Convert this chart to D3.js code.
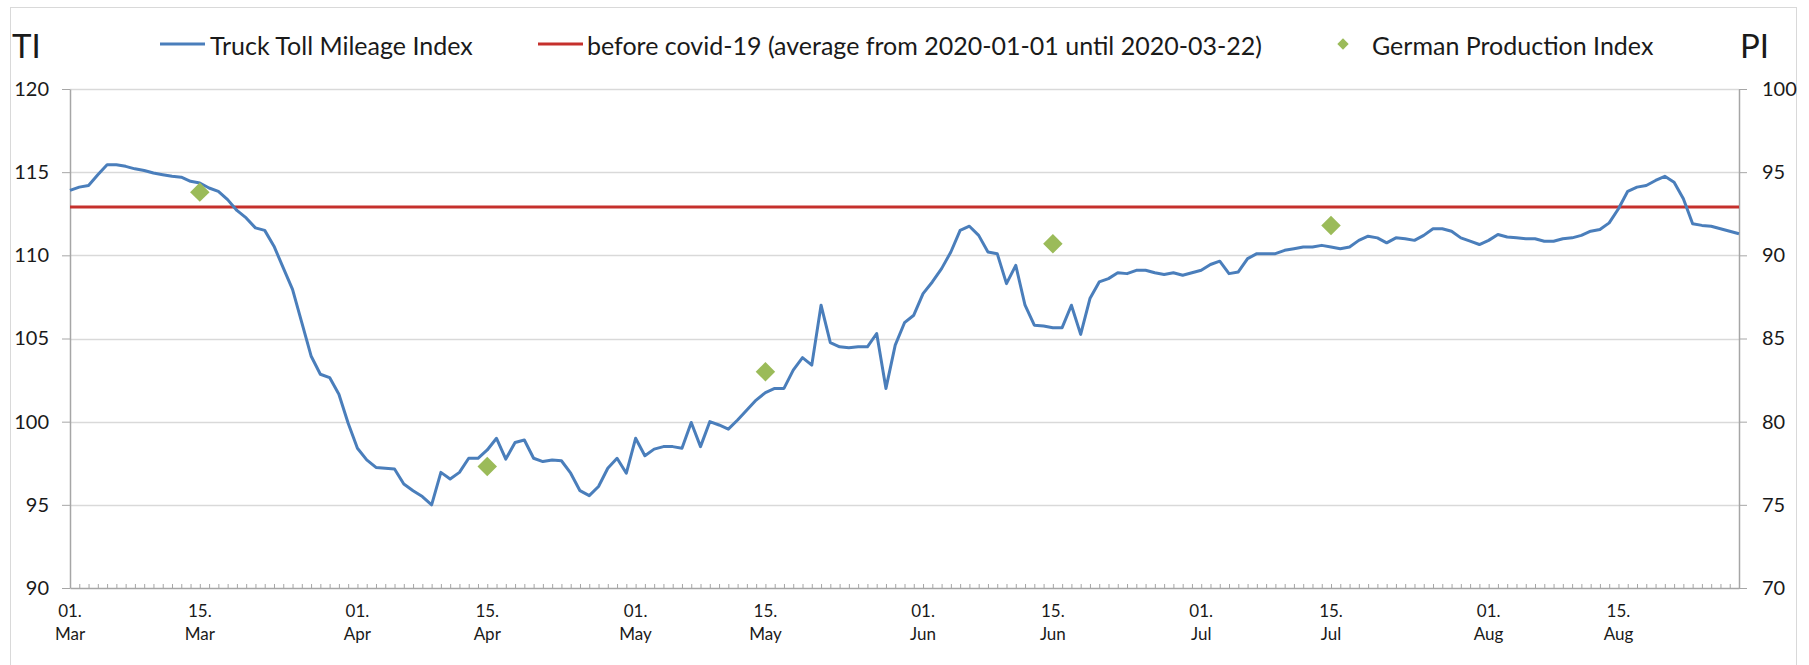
<!DOCTYPE html>
<html>
<head>
<meta charset="utf-8">
<script src="https://d3js.org/d3.v7.min.js"></script>
<style>
  body { margin: 0; background: #fff; }
  svg text { font-family: Lato, "Open Sans", sans-serif; fill: #1a1a1a; }
</style>
</head>
<body>
<div id="chart"></div>
<script>

// truck toll mileage index, one value per day from 2020-03-01
var startDate = "2020-03-01";
var tollIndex = [
  113.9, 114.1, 114.2, 114.85, 115.45, 115.45, 115.35, 115.2, 115.1, 114.95,
  114.85, 114.75, 114.7, 114.45, 114.35, 114.05, 113.85, 113.35, 112.7, 112.25,
  111.65, 111.5, 110.55, 109.25, 107.95, 105.95, 103.95, 102.85, 102.65, 101.65,
  99.9, 98.4, 97.7, 97.25, 97.2, 97.15, 96.25, 95.85, 95.5, 95.0,
  96.95, 96.55, 96.95, 97.8, 97.8, 98.3, 99.0, 97.75, 98.75, 98.9,
  97.8, 97.6, 97.7, 97.65, 96.9, 95.85, 95.55, 96.1, 97.2, 97.8,
  96.9, 99.0, 97.95, 98.35, 98.5, 98.5, 98.4, 99.95, 98.5, 100.0,
  99.8, 99.55, 100.1, 100.7, 101.3, 101.75, 102.0, 102.0, 103.1, 103.85,
  103.4, 107.0, 104.75, 104.5, 104.45, 104.5, 104.5, 105.3, 102.0, 104.6,
  105.95, 106.4, 107.7, 108.4, 109.2, 110.2, 111.5, 111.75, 111.2, 110.2,
  110.1, 108.3, 109.4, 107.0, 105.8, 105.75, 105.65, 105.65, 107.0, 105.25,
  107.4, 108.4, 108.6, 108.95, 108.9, 109.1, 109.1, 108.95, 108.85, 108.95,
  108.8, 108.95, 109.1, 109.45, 109.65, 108.9, 109.0, 109.8, 110.1, 110.1,
  110.1, 110.3, 110.4, 110.5, 110.5, 110.6, 110.5, 110.4, 110.5, 110.9,
  111.15, 111.05, 110.75, 111.05, 111.0, 110.9, 111.2, 111.6, 111.6, 111.45,
  111.05, 110.85, 110.65, 110.9, 111.25, 111.1, 111.05, 111.0, 111.0, 110.85,
  110.85, 111.0, 111.05, 111.2, 111.45, 111.55, 111.95, 112.8, 113.85, 114.1,
  114.2, 114.5, 114.75, 114.4, 113.4, 111.9, 111.8, 111.75, 111.6, 111.45,
  111.3
];

// average before covid-19
var beforeCovid = 112.9;

// german production index, right axis
var prodDates = ["2020-03-15", "2020-04-15", "2020-05-15", "2020-06-15", "2020-07-15"];
var prodIndex = [93.8, 77.3, 83.0, 90.7, 91.8];

// axis ticks and labels
var leftTicks = [90, 95, 100, 105, 110, 115, 120];
var rightTicks = [70, 75, 80, 85, 90, 95, 100];
var labelDates = ["2020-03-01", "2020-03-15", "2020-04-01", "2020-04-15", "2020-05-01", "2020-05-15",
                  "2020-06-01", "2020-06-15", "2020-07-01", "2020-07-15", "2020-08-01", "2020-08-15"];
var legendLabels = ["Truck Toll Mileage Index",
                    "before covid-19 (average from 2020-01-01 until 2020-03-22)",
                    "German Production Index"];

window.onload = function() {

  var parse = d3.utcParse("%Y-%m-%d");
  var blue = "#4a7ebb", red = "#c5302c", green = "#9bbb59";
  var axisColor = "#a6a6a6", gridColor = "#d9d9d9";

  // canvas
  var W = 1809, H = 665;
  var margin = {top: 89, right: 70, bottom: 77, left: 70},
      width = W - margin.left - margin.right,
      height = H - margin.top - margin.bottom;

  var start = parse(startDate);
  var dates = d3.utcDays(start, d3.utcDay.offset(start, tollIndex.length));
  var series = dates.map(function(d, i) { return {date: d, value: tollIndex[i]}; });

  var x = d3.scaleUtc()
    .domain([dates[0], dates[dates.length - 1]])
    .range([0, width]);

  var yLeft = d3.scaleLinear().domain([90, 120]).range([height, 0]);
  var yRight = d3.scaleLinear().domain([70, 100]).range([height, 0]);

  var svg = d3.select("#chart").append("svg")
    .attr("width", W)
    .attr("height", H);

  svg.append("rect")
    .attr("width", W).attr("height", H)
    .attr("fill", "#fff");

  // outer frame
  svg.append("rect")
    .attr("x", 10.5).attr("y", 7.5)
    .attr("width", 1786).attr("height", 660)
    .attr("fill", "none")
    .attr("stroke", gridColor);

  var g = svg.append("g")
    .attr("transform", "translate(" + margin.left + "," + margin.top + ")");

  // gridlines
  g.append("g").selectAll("line")
    .data(leftTicks.slice(1))
    .enter().append("line")
      .attr("x1", 0).attr("x2", width)
      .attr("y1", function(d) { return Math.round(yLeft(d)) + 0.5; })
      .attr("y2", function(d) { return Math.round(yLeft(d)) + 0.5; })
      .attr("stroke", gridColor)
      .attr("stroke-width", 1.5);

  // left axis
  var leftAxis = g.append("g")
    .call(d3.axisLeft(yLeft).tickValues(leftTicks).tickSize(8).tickSizeOuter(0).tickPadding(13));

  // right axis
  var rightAxis = g.append("g")
    .attr("transform", "translate(" + width + ",0)")
    .call(d3.axisRight(yRight).tickValues(rightTicks).tickSize(8).tickSizeOuter(0).tickPadding(15));

  // x axis, a small tick for each day
  var xAxis = g.append("g")
    .attr("transform", "translate(0," + height + ")")
    .call(d3.axisBottom(x).ticks(d3.utcDay.every(1)).tickSize(-4).tickSizeOuter(0).tickFormat(""));

  [leftAxis, rightAxis, xAxis].forEach(function(a) {
    a.select(".domain").attr("stroke", axisColor).attr("stroke-width", 1.5);
    a.selectAll(".tick line").attr("stroke", axisColor);
    a.selectAll("text")
      .style("font-family", "Lato, sans-serif")
      .style("font-size", "20px")
      .attr("fill", "#1a1a1a");
  });

  // date labels, two lines
  var fmtDay = d3.utcFormat("%d."), fmtMonth = d3.utcFormat("%b");
  var labels = g.append("g").selectAll("text")
    .data(labelDates.map(parse))
    .enter().append("text")
      .attr("text-anchor", "middle")
      .attr("x", function(d) { return x(d); })
      .style("font-size", "17px");
  labels.append("tspan")
    .attr("x", function(d) { return x(d); })
    .attr("y", height + 29)
    .text(fmtDay);
  labels.append("tspan")
    .attr("x", function(d) { return x(d); })
    .attr("y", height + 52)
    .text(fmtMonth);

  // before covid line
  g.append("line")
    .attr("x1", 0).attr("x2", width)
    .attr("y1", yLeft(beforeCovid)).attr("y2", yLeft(beforeCovid))
    .attr("stroke", red)
    .attr("stroke-width", 3);

  // toll index line
  var line = d3.line()
    .x(function(d) { return x(d.date); })
    .y(function(d) { return yLeft(d.value); });

  g.append("path")
    .datum(series)
    .attr("d", line)
    .attr("fill", "none")
    .attr("stroke", blue)
    .attr("stroke-width", 3)
    .attr("stroke-linejoin", "round");

  // production index diamonds
  var diamond = d3.symbol().type(d3.symbolSquare).size(190);
  g.append("g").selectAll("path")
    .data(prodDates.map(function(d, i) { return {date: parse(d), value: prodIndex[i]}; }))
    .enter().append("path")
      .attr("d", diamond)
      .attr("transform", function(d) {
        return "translate(" + x(d.date) + "," + yRight(d.value) + ")rotate(45)";
      })
      .attr("fill", green);

  // axis titles
  svg.append("text")
    .attr("x", 12).attr("y", 58)
    .style("font-size", "33px")
    .text("TI");
  svg.append("text")
    .attr("x", 1740).attr("y", 58)
    .style("font-size", "33px")
    .text("PI");

  // legend
  var legend = svg.append("g").style("font-size", "25px");
  legend.append("line")
    .attr("x1", 160).attr("x2", 205).attr("y1", 44).attr("y2", 44)
    .attr("stroke", blue).attr("stroke-width", 3);
  legend.append("text").attr("x", 210).attr("y", 55).text(legendLabels[0]);

  legend.append("line")
    .attr("x1", 538).attr("x2", 583).attr("y1", 44).attr("y2", 44)
    .attr("stroke", red).attr("stroke-width", 3);
  legend.append("text").attr("x", 587).attr("y", 55).text(legendLabels[1]);

  legend.append("path")
    .attr("d", d3.symbol().type(d3.symbolSquare).size(64))
    .attr("transform", "translate(1343,44)rotate(45)")
    .attr("fill", green);
  legend.append("text").attr("x", 1372).attr("y", 55).text(legendLabels[2]);
};
</script>
</body>
</html>
